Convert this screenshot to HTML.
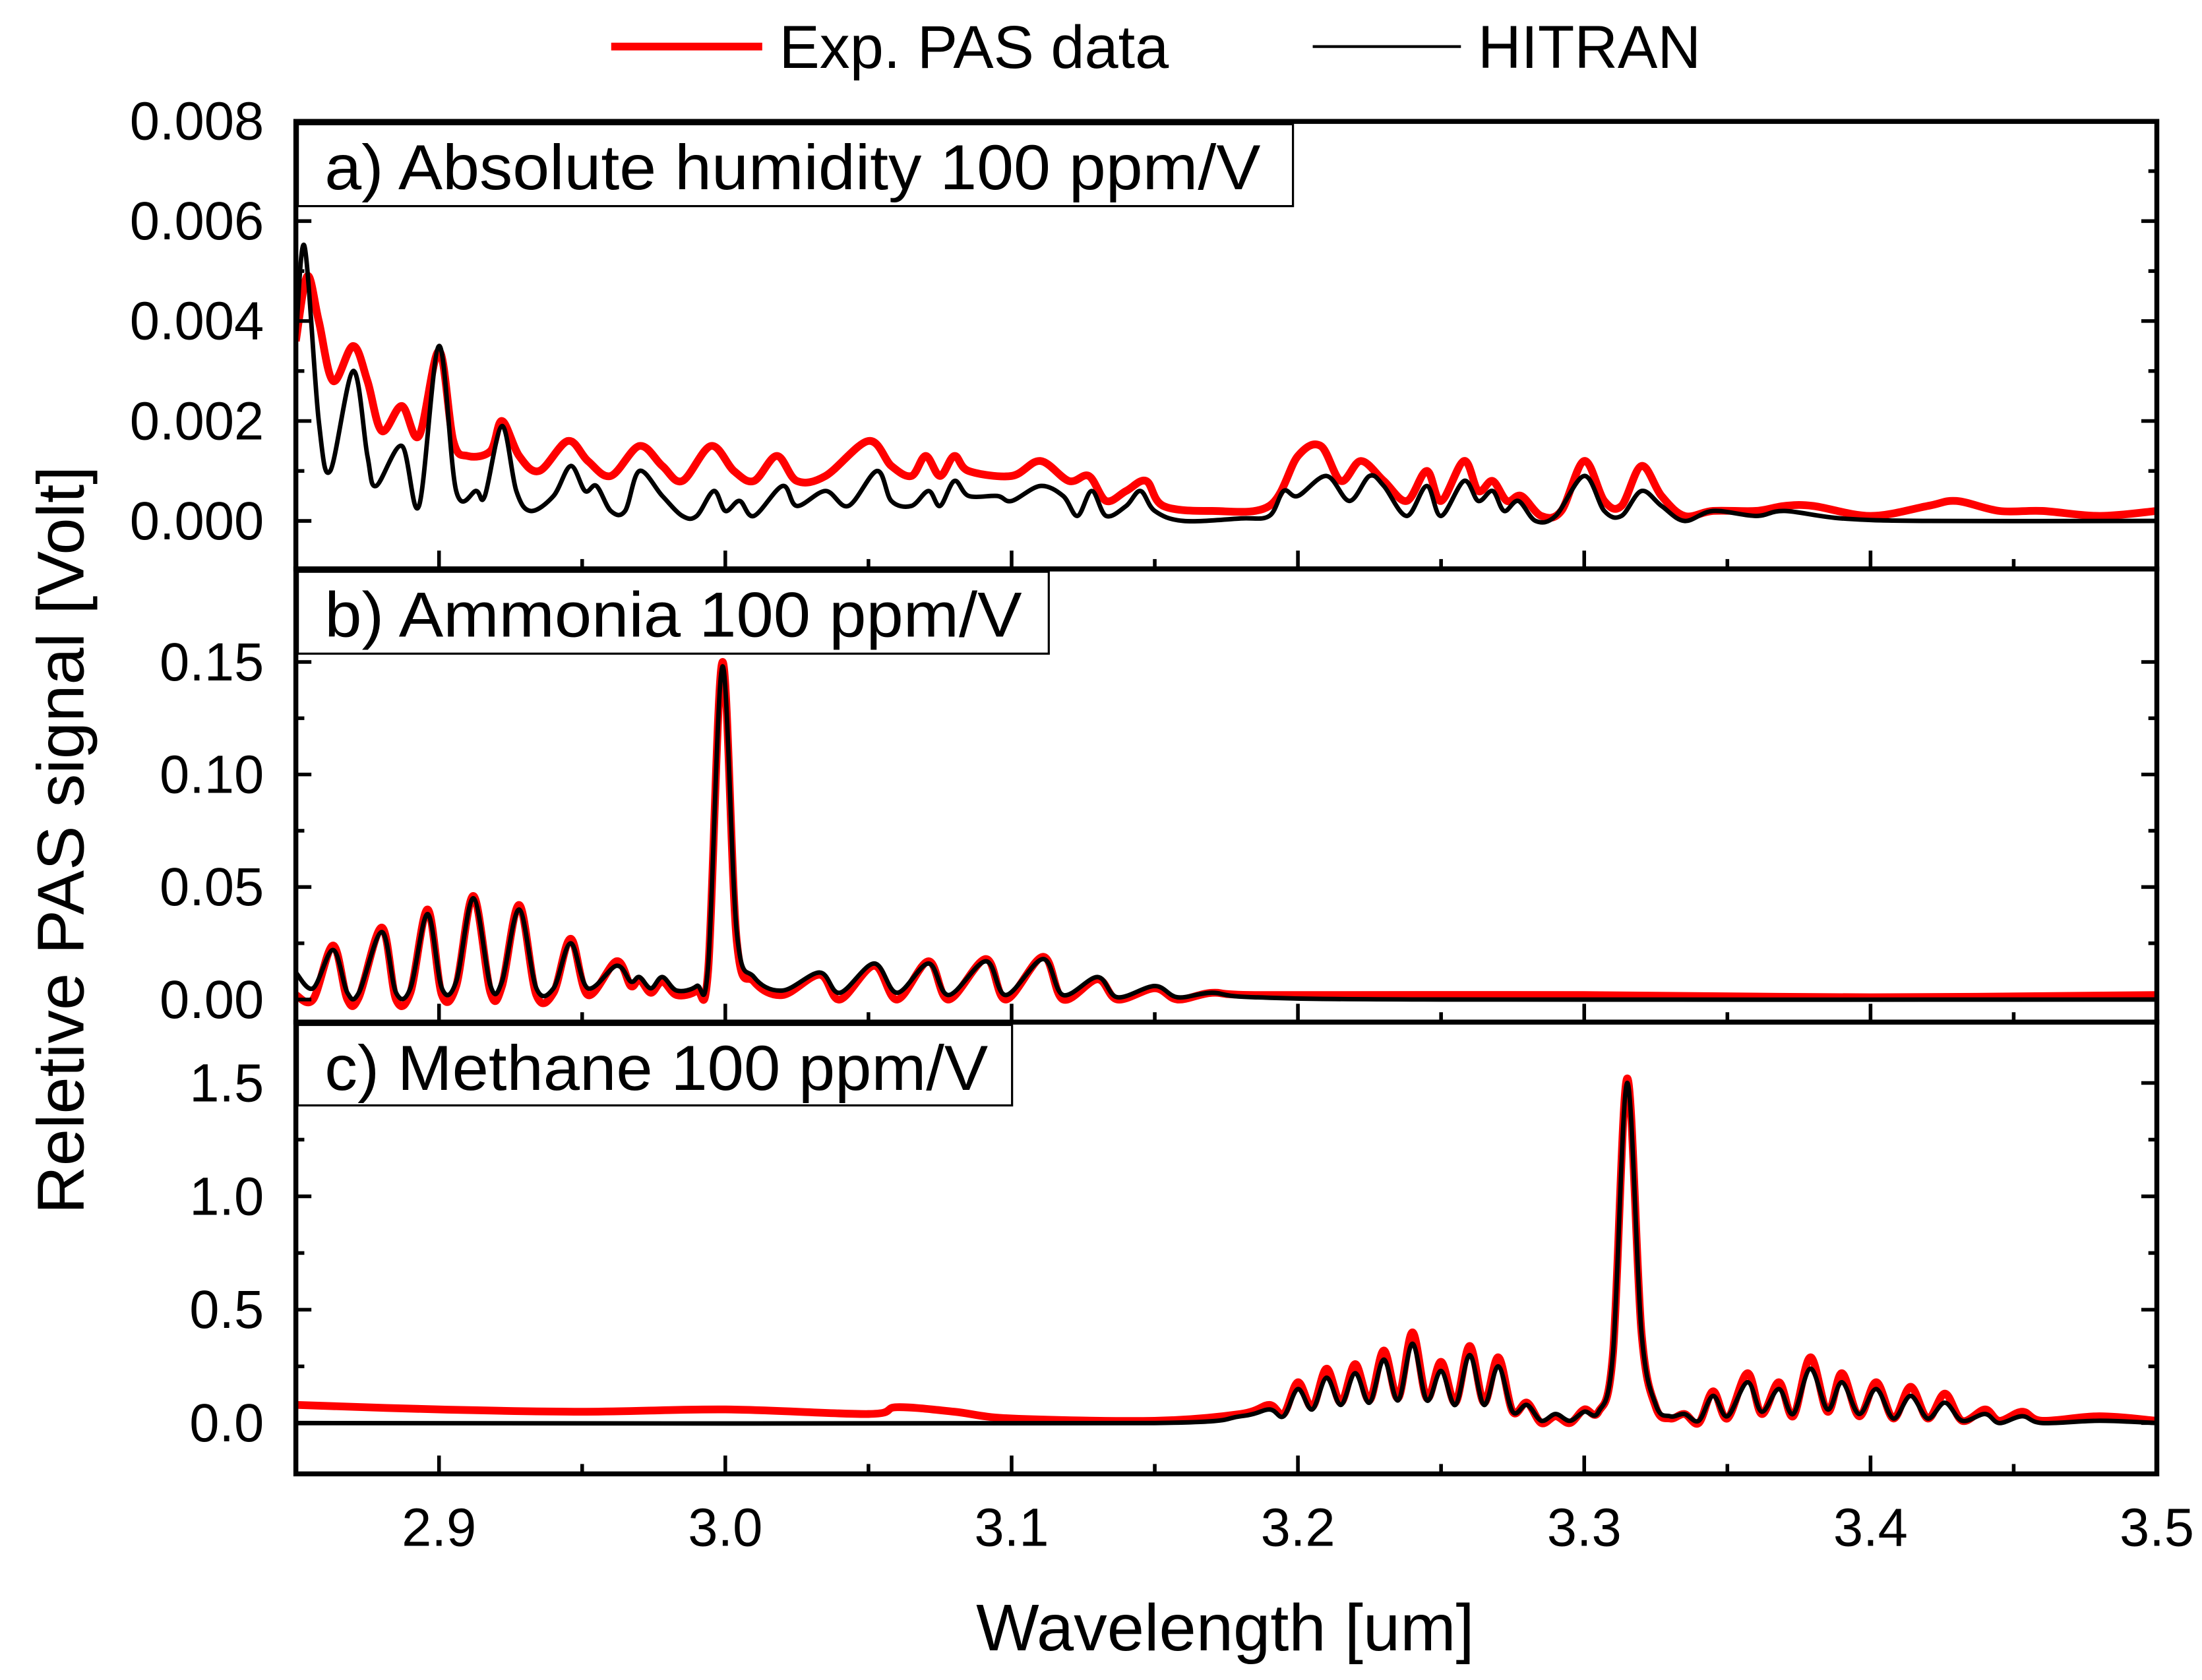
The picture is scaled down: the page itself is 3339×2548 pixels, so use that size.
<!DOCTYPE html>
<html><head><meta charset="utf-8"><style>
html,body{margin:0;padding:0;background:#fff}
svg{display:block}
text{font-family:"Liberation Sans",sans-serif;fill:#000}
</style></head><body>
<svg id="chart" width="3339" height="2548" viewBox="0 0 1560 1190" preserveAspectRatio="none" xmlns="http://www.w3.org/2000/svg">
<g>
<line x1="433" y1="33" x2="540" y2="33" stroke="#f00" stroke-width="5.5"/>
<text x="552" y="48" font-size="43" textLength="276" lengthAdjust="spacingAndGlyphs">Exp. PAS data</text>
<line x1="930" y1="33" x2="1035" y2="33" stroke="#000" stroke-width="2"/>
<text x="1047" y="48" font-size="43" textLength="158" lengthAdjust="spacingAndGlyphs">HITRAN</text>
</g>
<text transform="translate(59,595) rotate(-90)" text-anchor="middle" font-size="47" textLength="530" lengthAdjust="spacingAndGlyphs">Reletive PAS signal [Volt]</text>
<text x="868" y="1169" text-anchor="middle" font-size="47" textLength="353" lengthAdjust="spacingAndGlyphs">Wavelength [um]</text>
<g id="plots"></g>
</svg>
<script>
// x-axis
const xTicks = [2.9, 3.0, 3.1, 3.2, 3.3, 3.4, 3.5];
const xTickLabels = ["2.9", "3.0", "3.1", "3.2", "3.3", "3.4", "3.5"];
// panel a (units 0.001 V)
const aX_hit = [2.850,2.853,2.858,2.862,2.870,2.875,2.878,2.887,2.893,2.900,2.906,2.913,2.916,2.922,2.927,2.932,2.940,2.946,2.951,2.955,2.960,2.965,2.970,2.978,2.985,2.990,2.996,3.000,3.005,3.010,3.020,3.025,3.035,3.043,3.053,3.058,3.065,3.071,3.075,3.080,3.085,3.095,3.100,3.110,3.118,3.123,3.128,3.133,3.140,3.145,3.150,3.160,3.180,3.190,3.195,3.200,3.210,3.218,3.225,3.230,3.238,3.245,3.250,3.258,3.263,3.268,3.272,3.277,3.283,3.290,3.300,3.307,3.313,3.320,3.327,3.335,3.345,3.360,3.370,3.390,3.420,3.500];
const aY_hit = [3.6,5.5,2.0,1.0,3.0,1.3,0.7,1.5,0.3,3.5,0.6,0.6,0.5,1.9,0.6,0.2,0.5,1.1,0.6,0.7,0.2,0.2,1.0,0.5,0.1,0.1,0.6,0.2,0.4,0.1,0.7,0.3,0.6,0.3,1.0,0.4,0.3,0.6,0.3,0.8,0.5,0.5,0.4,0.7,0.5,0.1,0.6,0.1,0.3,0.6,0.2,0.0,0.05,0.1,0.6,0.5,0.9,0.4,0.9,0.7,0.1,0.7,0.1,0.8,0.4,0.6,0.2,0.4,0.0,0.1,0.9,0.2,0.1,0.6,0.3,0.0,0.2,0.1,0.2,0.05,0.0,0.0];
const aX_exp = [2.850,2.854,2.858,2.863,2.870,2.875,2.880,2.887,2.893,2.900,2.905,2.910,2.918,2.922,2.928,2.935,2.945,2.952,2.960,2.970,2.978,2.985,2.995,3.003,3.010,3.018,3.025,3.035,3.050,3.058,3.065,3.070,3.075,3.080,3.085,3.100,3.110,3.120,3.127,3.133,3.140,3.147,3.153,3.170,3.190,3.200,3.208,3.215,3.222,3.230,3.238,3.245,3.250,3.258,3.263,3.268,3.273,3.278,3.285,3.292,3.300,3.307,3.313,3.320,3.327,3.335,3.345,3.360,3.370,3.380,3.400,3.420,3.430,3.445,3.460,3.480,3.500];
const aY_exp = [3.6,4.9,4.0,2.8,3.5,2.8,1.8,2.3,1.7,3.4,1.6,1.3,1.4,2.0,1.3,1.0,1.6,1.2,0.9,1.5,1.1,0.8,1.5,1.0,0.8,1.3,0.8,0.9,1.6,1.1,0.9,1.3,0.9,1.3,1.0,0.9,1.2,0.8,0.9,0.4,0.6,0.8,0.3,0.2,0.3,1.3,1.5,0.8,1.2,0.8,0.4,1.0,0.4,1.2,0.6,0.8,0.4,0.5,0.1,0.2,1.2,0.4,0.3,1.1,0.5,0.1,0.2,0.2,0.3,0.3,0.1,0.3,0.4,0.2,0.2,0.1,0.2];
// panel b (units 0.01 V)
const bX_hit = [2.850,2.856,2.863,2.868,2.872,2.880,2.885,2.890,2.896,2.901,2.906,2.912,2.918,2.922,2.928,2.934,2.940,2.946,2.952,2.962,2.967,2.970,2.974,2.978,2.983,2.990,2.994,2.999,3.004,3.010,3.020,3.033,3.040,3.052,3.060,3.071,3.078,3.091,3.098,3.111,3.118,3.130,3.137,3.150,3.158,3.170,3.185,3.250,3.500];
const bY_hit = [1.2,0.5,2.2,0.3,0.3,3.0,0.3,0.5,3.8,0.5,0.8,4.5,0.6,0.8,4.0,0.5,0.5,2.5,0.5,1.5,0.8,1.0,0.5,1.0,0.4,0.6,1.5,14.8,3.0,1.0,0.4,1.2,0.3,1.6,0.3,1.6,0.2,1.7,0.2,1.8,0.2,1.0,0.1,0.6,0.1,0.3,0.1,0.0,0.0];
const bX_exp = [2.850,2.856,2.863,2.868,2.872,2.880,2.885,2.890,2.896,2.901,2.906,2.912,2.918,2.922,2.928,2.934,2.940,2.946,2.952,2.962,2.967,2.970,2.974,2.978,2.983,2.990,2.994,2.999,3.004,3.010,3.020,3.033,3.040,3.052,3.060,3.071,3.078,3.091,3.098,3.111,3.118,3.130,3.137,3.150,3.158,3.170,3.185,3.300,3.400,3.500];
const bY_exp = [0.2,0.0,2.4,0.0,0.1,3.2,0.0,0.3,4.0,0.2,0.6,4.6,0.3,0.6,4.2,0.2,0.3,2.7,0.2,1.7,0.6,0.9,0.3,0.8,0.2,0.4,1.3,15.0,2.6,0.8,0.2,1.1,0.0,1.5,0.0,1.7,0.0,1.8,0.0,1.9,0.0,0.9,0.0,0.5,0.0,0.3,0.2,0.2,0.1,0.2];
// panel c (units 0.1 V)
const cX_hit = [2.850,3.150,3.180,3.190,3.195,3.200,3.205,3.210,3.215,3.220,3.225,3.230,3.235,3.240,3.245,3.250,3.255,3.260,3.265,3.270,3.275,3.280,3.285,3.290,3.295,3.300,3.305,3.310,3.315,3.320,3.325,3.330,3.335,3.340,3.345,3.350,3.357,3.362,3.368,3.373,3.379,3.385,3.390,3.396,3.402,3.408,3.414,3.420,3.426,3.432,3.440,3.445,3.453,3.460,3.480,3.500];
const cY_hit = [0.0,0.0,0.3,0.6,0.3,1.5,0.6,2.0,0.8,2.2,0.9,2.8,1.0,3.5,1.0,2.3,0.8,3.0,0.8,2.5,0.5,0.8,0.1,0.4,0.1,0.5,0.5,3.0,15.0,4.0,0.8,0.3,0.4,0.1,1.2,0.3,1.8,0.5,1.5,0.4,2.4,0.6,1.8,0.4,1.5,0.2,1.2,0.2,0.9,0.1,0.4,0.0,0.3,0.0,0.1,0.0];
const cX_exp = [2.850,2.900,2.950,3.000,3.050,3.060,3.080,3.100,3.150,3.180,3.190,3.195,3.200,3.205,3.210,3.215,3.220,3.225,3.230,3.235,3.240,3.245,3.250,3.255,3.260,3.265,3.270,3.275,3.280,3.285,3.290,3.295,3.300,3.305,3.310,3.315,3.320,3.325,3.330,3.335,3.340,3.345,3.350,3.357,3.362,3.368,3.373,3.379,3.385,3.390,3.396,3.402,3.408,3.414,3.420,3.426,3.432,3.440,3.445,3.453,3.460,3.480,3.500];
const cY_exp = [0.8,0.6,0.5,0.6,0.4,0.7,0.5,0.2,0.1,0.4,0.8,0.4,1.8,0.7,2.4,0.9,2.6,1.0,3.2,1.1,4.0,1.1,2.7,0.9,3.4,0.9,2.9,0.5,0.9,0.0,0.3,0.0,0.6,0.5,3.0,15.2,4.0,0.7,0.2,0.4,0.0,1.4,0.2,2.2,0.4,1.8,0.3,2.9,0.5,2.2,0.3,1.8,0.2,1.6,0.2,1.3,0.1,0.6,0.1,0.5,0.1,0.3,0.1];

const NS="http://www.w3.org/2000/svg";
const L=209.6,R=1528;
const xs=v=>L+(v-2.85)/(3.5-2.85)*(R-L);
const plots=document.getElementById('plots');
function mk(tag,attrs,parent){const e=document.createElementNS(NS,tag);for(const k in attrs)e.setAttribute(k,attrs[k]);(parent||plots).appendChild(e);return e;}
function pathFrom(X,Y,ys){
  const p=X.map((x,i)=>[xs(x),ys(Y[i])]);
  let d="M"+p[0][0].toFixed(2)+","+p[0][1].toFixed(2);
  for(let i=0;i<p.length-1;i++){
    const p0=p[Math.max(0,i-1)],p1=p[i],p2=p[i+1],p3=p[Math.min(p.length-1,i+2)];
    const c1=[p1[0]+(p2[0]-p0[0])/6,p1[1]+(p2[1]-p0[1])/6];
    const c2=[p2[0]-(p3[0]-p1[0])/6,p2[1]-(p3[1]-p1[1])/6];
    c1[0]=Math.min(Math.max(c1[0],p1[0]),p2[0]);c2[0]=Math.min(Math.max(c2[0],p1[0]),p2[0]);
    d+=" C"+c1[0].toFixed(2)+","+c1[1].toFixed(2)+" "+c2[0].toFixed(2)+","+c2[1].toFixed(2)+" "+p2[0].toFixed(2)+","+p2[1].toFixed(2);
  }
  return d;
}
const panels=[
 {name:'humidity',top:86,bot:403,y0:369,yMax:8,yStep:2,minor:1,pxPer:35.4,labels:["0.000","0.002","0.004","0.006","0.008"],
  box:[211,88,705,58],title:"a) Absolute humidity 100 ppm/V",tw:663,xh:aX_hit,yh:aY_hit,xe:aX_exp,ye:aY_exp},
 {name:'ammonia',top:403,bot:724,y0:708,yMax:15,yStep:5,minor:2.5,pxPer:15.94,labels:["0.00","0.05","0.10","0.15"],
  box:[211,405,532,58],title:"b) Ammonia 100 ppm/V",tw:494,xh:bX_hit,yh:bY_hit,xe:bX_exp,ye:bY_exp},
 {name:'methane',top:724,bot:1044,y0:1008,yMax:15,yStep:5,minor:2.5,pxPer:16.06,labels:["0.0","0.5","1.0","1.5"],
  box:[211,726,506,57],title:"c) Methane 100 ppm/V",tw:470,xh:cX_hit,yh:cY_hit,xe:cX_exp,ye:cY_exp}
];
panels.forEach(P=>{
  const ys=v=>P.y0-v*P.pxPer;
  const g=mk('g',{});
  
  
  const cid='clip-'+P.name;
  const cp=mk('clipPath',{id:cid},g);
  mk('rect',{x:L,y:P.top,width:R-L,height:P.bot-P.top},cp);
  const series=mk('g',{'clip-path':'url(#'+cid+')'},g);
  const pe=mk('path',{d:pathFrom(P.xe,P.ye,ys),fill:'none',stroke:'#f00','stroke-width':5.5,'stroke-linejoin':'round'},series);
  
  
  const ph=mk('path',{d:pathFrom(P.xh,P.yh,ys),fill:'none',stroke:'#000','stroke-width':3.2,'stroke-linejoin':'round'},series);
  
  
  for(let v=0;v<=P.yMax+1e-9;v+=P.minor){
    const y=ys(v);if(y<P.top+2)continue;
    const major=Math.abs(v/P.yStep-Math.round(v/P.yStep))<1e-6;
    const len=major?11:6;
    mk('line',{x1:L,y1:y,x2:L+len,y2:y,stroke:'#000','stroke-width':2.6},g);
    mk('line',{x1:R,y1:y,x2:R-len,y2:y,stroke:'#000','stroke-width':2.6},g);
  }
  P.labels.forEach((t,i)=>{
    const lab=mk('text',{x:187,y:ys(i*P.yStep)+13,'text-anchor':'end','font-size':38},g);
    lab.textContent=t;
    
    
  });
  for(let v=2.85;v<=3.5001;v+=0.05){
    const major=Math.abs(v*10-Math.round(v*10))<1e-6;
    const x=xs(v);
    if(x<L+2||x>R-2)continue;
    mk('line',{x1:x,y1:P.bot,x2:x,y2:P.bot-(major?13:7),stroke:'#000','stroke-width':2.6},g);
  }
  const fr=mk('rect',{x:L,y:P.top,width:R-L,height:P.bot-P.top,fill:'none',stroke:'#000','stroke-width':3.5},g);
  
  
  const b=P.box;
  const bx=mk('rect',{x:b[0],y:b[1],width:b[2],height:b[3],fill:'#fff',stroke:'#000','stroke-width':1.5},g);
  
  
  const tt=mk('text',{x:b[0]+19,y:b[1]+46,'font-size':45,textLength:P.tw,lengthAdjust:'spacingAndGlyphs'},g);
  tt.textContent=P.title;
  
  
});
xTicks.forEach((v,i)=>{
  const t=mk('text',{x:xs(v),y:1095,'text-anchor':'middle','font-size':38});
  t.textContent=xTickLabels[i];
  
  
});
</script>
</body></html>
